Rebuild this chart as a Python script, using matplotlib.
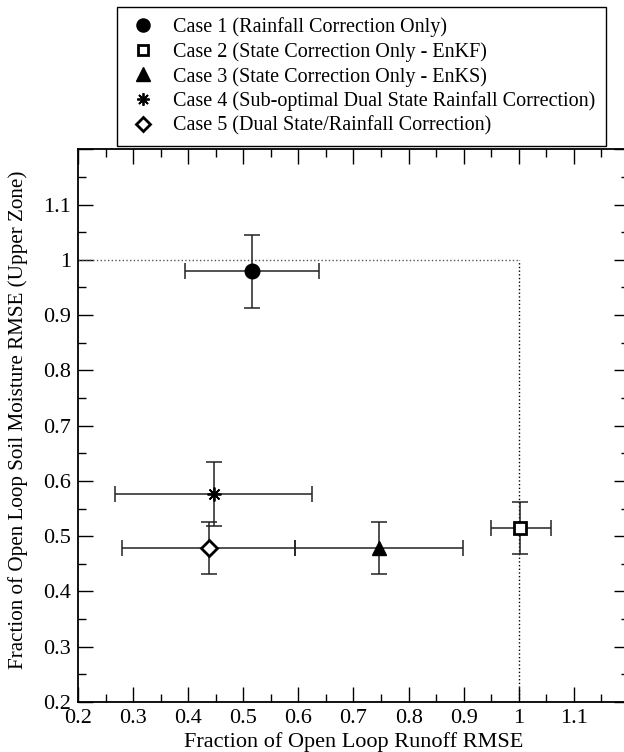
import numpy as np
import matplotlib.pyplot as plt
from matplotlib.ticker import MultipleLocator, FuncFormatter

plt.rcParams['font.family'] = ['Liberation Serif', 'DejaVu Serif']

# fraction of open loop runoff RMSE (x) and soil moisture RMSE (y) per case
labels = ['Case 1 (Rainfall Correction Only)',
          'Case 2 (State Correction Only - EnKF)',
          'Case 3 (State Correction Only - EnKS)',
          'Case 4 (Sub-optimal Dual State Rainfall Correction)',
          'Case 5 (Dual State/Rainfall Correction)']
runoff = [0.515, 1.003, 0.747, 0.446, 0.437]
runoff_lo = [0.394, 0.950, 0.593, 0.268, 0.280]
runoff_hi = [0.637, 1.058, 0.899, 0.625, 0.593]
soil = [0.979, 0.515, 0.479, 0.576, 0.479]
soil_lo = [0.912, 0.467, 0.432, 0.518, 0.432]
soil_hi = [1.045, 0.562, 0.526, 0.635, 0.526]

markers = ['o', 's', '^', (8, 2, 0), 'D']
faces = ['black', 'white', 'black', 'black', 'white']
sizes = [10.5, 8.5, 10.5, 10, 8]
edges = [1.0, 2.0, 1.0, 1.3, 2.0]

fs = 16       # tick labels and x label
fs_y = 15.2   # y label
fs_leg = 14.5 # legend text

fig = plt.figure(figsize=(6.24, 7.52), dpi=100)
ax = fig.add_axes([0.125, 0.0665, 0.883, 0.735])

# open loop reference lines
ax.plot([0.2, 1.0], [1.0, 1.0], ':', color='#555555', lw=1.0)
ax.plot([1.0, 1.0], [0.2, 1.0], ':', color='black', lw=1.0)

handles = []
for i in range(len(labels)):
    x, y = runoff[i], soil[i]
    xerr = [[x - runoff_lo[i]], [runoff_hi[i] - x]]
    yerr = [[y - soil_lo[i]], [soil_hi[i] - y]]
    ax.errorbar(x, y, xerr=xerr, yerr=yerr, fmt='none', ecolor='#222222',
                elinewidth=1.1, capsize=5.5, capthick=1.1, zorder=2)
    h, = ax.plot(x, y, linestyle='none', marker=markers[i], ms=sizes[i],
                 mfc=faces[i], mec='black', mew=edges[i], zorder=3)
    handles.append(h)

ax.set_xlim(0.2, 1.2)
ax.set_ylim(0.2, 1.2)
ax.xaxis.set_major_locator(MultipleLocator(0.1))
ax.yaxis.set_major_locator(MultipleLocator(0.1))
ax.xaxis.set_minor_locator(MultipleLocator(0.05))
ax.yaxis.set_minor_locator(MultipleLocator(0.05))


def fmt(v, pos):
    if v > 1.15:
        return ''
    return '%g' % round(v, 2)


ax.xaxis.set_major_formatter(FuncFormatter(fmt))
ax.yaxis.set_major_formatter(FuncFormatter(fmt))
ax.tick_params(which='both', direction='in', top=True, right=True,
               labelsize=fs, width=1.0)
ax.tick_params(which='major', length=11, pad=5)
ax.tick_params(which='minor', length=5.8)
for s in ax.spines.values():
    s.set_linewidth(1.3)

ax.set_xlabel('Fraction of Open Loop Runoff RMSE', fontsize=fs, labelpad=3)
ax.set_ylabel('Fraction of Open Loop Soil Moisture RMSE (Upper Zone)',
              fontsize=fs_y)
ax.yaxis.set_label_coords(-0.09, 0.51)

leg = fig.legend(handles, labels, loc='upper left',
                 bbox_to_anchor=(117 / 624, 1 - 7 / 752), borderaxespad=0,
                 fontsize=fs_leg, frameon=True, fancybox=False, framealpha=1,
                 edgecolor='black', handlelength=1.6, handletextpad=0.7,
                 labelspacing=0.25, borderpad=0.5, markerscale=0.9)
leg.get_frame().set_linewidth(1.0)

fig.savefig('out.png', dpi=100)
